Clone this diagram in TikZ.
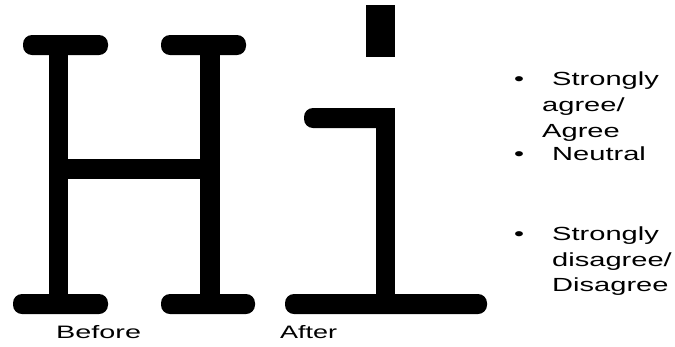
\documentclass[tikz,border=0pt]{standalone}
\usepackage{fontspec}
\setmainfont{Liberation Sans}
\begin{document}
\begin{tikzpicture}[x=1pt,y=-1pt,
  ink/.style={fill=black,draw=none},
  serif/.style={fill=black,draw=none,rounded corners=9pt},
  lbl/.style={inner sep=0pt,anchor=base west},
  lblfont/.style={font=\fontsize{18}{20}\selectfont},
  listfont/.style={font=\fontsize{19}{21}\selectfont}]
\useasboundingbox (0,0) rectangle (675,346);
% H
\path[serif] (23,35) rectangle (108,55);
\path[serif] (161,35) rectangle (246,55);
\path[serif] (13,294) rectangle (108,314);
\path[serif] (161,294) rectangle (255,314);
\path[ink] (49,54) rectangle (68,295);
\path[ink] (200,54) rectangle (220,295);
\path[ink] (67,159) rectangle (201,179);
% i
\path[ink] (366,5) rectangle (395,57);
\path[serif] (304,108) rectangle (386,128);
\path[ink] (376,108) rectangle (395,295);
\path[serif] (285,294) rectangle (487,314);
% labels
\node[lbl,lblfont] (before) at (56,338) {\scalebox{1.6}[1]{Before}};
\node[lbl,lblfont] (after) at (280,338) {\scalebox{1.5}[1]{After}};
% list
\node[lbl,listfont] (b1) at (514,85) {\scalebox{1.5}[1]{•}};
\node[lbl,listfont] (t1) at (552,85) {\scalebox{1.53}[1]{Strongly}};
\node[lbl,listfont] (t2) at (542,111) {\scalebox{1.53}[1]{agree/}};
\node[lbl,listfont] (t3) at (542,137) {\scalebox{1.53}[1]{Agree}};
\node[lbl,listfont] (b2) at (514,160) {\scalebox{1.5}[1]{•}};
\node[lbl,listfont] (t4) at (552,160) {\scalebox{1.53}[1]{Neutral}};
\node[lbl,listfont] (b3) at (514,240) {\scalebox{1.5}[1]{•}};
\node[lbl,listfont] (t5) at (552,240) {\scalebox{1.53}[1]{Strongly}};
\node[lbl,listfont] (t6) at (552,266) {\scalebox{1.53}[1]{disagree/}};
\node[lbl,listfont] (t7) at (552,291) {\scalebox{1.53}[1]{Disagree}};
\end{tikzpicture}
\end{document}
